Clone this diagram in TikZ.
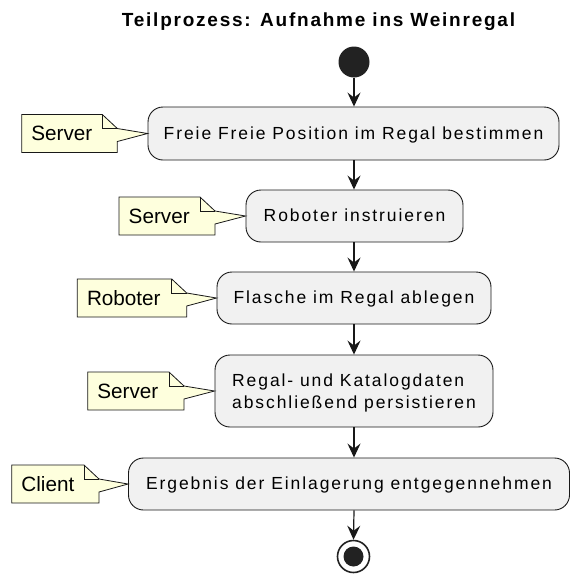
\documentclass[tikz,border=0pt]{standalone}
\usepackage{fontspec}
\setmainfont{Liberation Sans}
\newfontfamily\titlefont[LetterSpace=9.3]{Liberation Sans}
\newfontfamily\actfont[LetterSpace=11]{Liberation Sans}
\newfontfamily\notefont{Liberation Sans}
\usetikzlibrary{arrows.meta,calc}

\definecolor{linec}{HTML}{181818}
\definecolor{actfill}{HTML}{F1F1F1}
\definecolor{notefill}{HTML}{FEFFDD}
\definecolor{dotc}{HTML}{222222}

\tikzset{
  actbox/.style={draw=linec, fill=actfill, rounded corners=15pt, line width=0.9pt,
    inner sep=0pt, font=\actfont\fontsize{17.5}{21.7}\selectfont,
    text height=14pt, text depth=2.2pt},
  notepath/.style={draw=linec, fill=notefill, line width=0.8pt, line join=miter},
  notetext/.style={font=\notefont\fontsize{20.7}{24}\selectfont, inner sep=0pt},
  flow/.style={draw=linec, line width=1.2pt,
    -{Stealth[length=14pt, width=13pt, inset=5pt]}},
}

% a note with a folded corner whose pointer ends on the west side of an action
% #1 name, #2 left, #3 right, #4 middle y, #5 action node, #6 text
\newcommand\umlnote[6]{%
  \path[notepath] (#2,#4-19) -- (#3-15,#4-19) -- (#3,#4-5) -- (#5.west)
    -- (#3,#4+8) -- (#3,#4+19) -- (#2,#4+19) -- cycle;
  \draw[notepath, fill=none] (#3-15,#4-19) -- (#3-15,#4-5) -- (#3,#4-5);
  \node[notetext, anchor=base west] (#1) at (#2+9.5,#4+7) {#6};
}

\begin{document}
\begin{tikzpicture}[x=1pt, y=-1pt]
\useasboundingbox (0,0) rectangle (571,574);

\node[font=\titlefont\bfseries\fontsize{19}{23}\selectfont, anchor=base, inner sep=0pt]
  (title) at (318.5,26) {Teilprozess: Aufnahme ins Weinregal};

% start and end
\node[circle, fill=dotc, minimum size=31pt, inner sep=0pt] (start) at (354,62) {};
\node[circle, draw=dotc, fill=white, line width=1.6pt, minimum size=32pt, inner sep=0pt]
  (stop) at (353.5,556.5) {};
\fill[dotc] (stop.center) circle (10pt);

% actions
\node[actbox, minimum width=411pt, minimum height=53pt] (b1) at (353.5,133.5)
  {Freie Freie Position im Regal bestimmen};
\node[actbox, minimum width=217pt, minimum height=52pt] (b2) at (354.5,216)
  {Roboter instruieren};
\node[actbox, minimum width=274pt, minimum height=52pt] (b3) at (354,298)
  {Flasche im Regal ablegen};
\node[actbox, minimum width=278pt, minimum height=72pt, align=left,
  text height=37pt, text depth=3pt] (b4) at (354,391)
  {Regal- und Katalogdaten\\abschließend persistieren};
\node[actbox, minimum width=441pt, minimum height=52pt] (b5) at (349,484)
  {Ergebnis der Einlagerung entgegennehmen};

% flow
\draw[flow] (start.south) -- (b1.north -| start);
\draw[flow] (b1.south -| start) -- (b2.north -| start);
\draw[flow] (b2.south -| start) -- (b3.north -| start);
\draw[flow] (b3.south -| start) -- (b4.north -| start);
\draw[flow] (b4.south -| start) -- (b5.north -| start);
\draw[flow] (b5.south -| start) -- (stop.north);

% notes
\umlnote{n1}{21.7}{117.3}{133.5}{b1}{Server}
\umlnote{n2}{119}{215}{216}{b2}{Server}
\umlnote{n3}{77.3}{186.7}{298}{b3}{Roboter}
\umlnote{n4}{87.7}{184}{391}{b4}{Server}
\umlnote{n5}{11.7}{99}{484}{b5}{Client}
\end{tikzpicture}
\end{document}
